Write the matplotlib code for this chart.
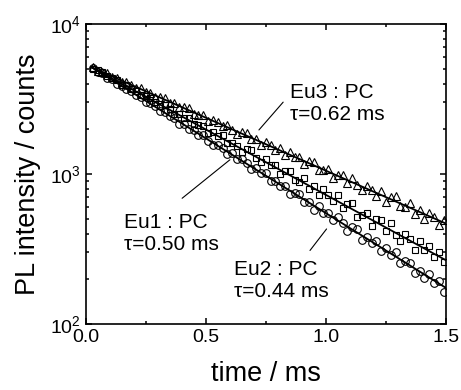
import numpy as np
import matplotlib
matplotlib.use("Agg")
import matplotlib.pyplot as plt

plt.rcParams['font.family'] = ['Liberation Sans', 'DejaVu Sans']
plt.rcParams['mathtext.fontset'] = 'custom'
plt.rcParams['mathtext.rm'] = 'Liberation Sans'

# sampling time of the decay traces (ms)
t_ms = np.round(np.arange(0.03, 1.50, 0.02), 3)

# Eu3 : PC  (triangles)
eu3 = [5150, 4890, 4780, 4700, 4430, 4360, 4110, 4100, 3930, 3750,
       3760, 3530, 3490, 3260, 3250, 3190, 2990, 2960, 2780, 2790,
       2740, 2520, 2490, 2470, 2270, 2280, 2230, 2080, 2120, 1970,
       1860, 1900, 1870, 1710, 1700, 1570, 1630, 1550, 1440, 1480,
       1330, 1410, 1290, 1290, 1160, 1220, 1210, 1070, 1060, 1080,
       940, 990, 990, 870, 940, 840, 780, 830, 780, 710,
       770, 650, 700, 710, 610, 600, 640, 540, 580, 500,
       550, 520, 460, 490]

# Eu1 : PC  (squares)
eu1 = [5050, 4950, 4780, 4480, 4340, 4210, 3950, 3930, 3660, 3590,
       3340, 3330, 3230, 3000, 2850, 2880, 2710, 2500, 2520, 2350,
       2380, 2150, 2130, 2090, 1870, 1910, 1780, 1810, 1610, 1620,
       1540, 1400, 1470, 1440, 1280, 1200, 1260, 1140, 1140, 1000,
       1040, 1050, 910, 890, 940, 800, 830, 720, 790, 720,
       660, 720, 590, 630, 640, 520, 530, 550, 450, 500,
       490, 420, 470, 390, 360, 400, 370, 310, 360, 310,
       330, 280, 300, 260]

# Eu2 : PC  (circles)
eu2 = [5100, 4820, 4700, 4380, 4290, 4010, 3890, 3660, 3580, 3350,
       3250, 3010, 2980, 2820, 2630, 2610, 2420, 2360, 2170, 2160,
       2010, 1980, 1820, 1820, 1670, 1570, 1570, 1490, 1360, 1380,
       1260, 1260, 1180, 1080, 1090, 1010, 1010, 900, 900, 830,
       830, 740, 750, 740, 650, 650, 580, 610, 550, 550,
       490, 520, 470, 420, 440, 430, 365, 380, 345, 360,
       305, 320, 288, 300, 255, 265, 255, 218, 227, 204,
       216, 189, 193, 164]

# single-exponential fits (end points)
fit_t = [0.03, 1.5]
eu3_fit = [5100, 467]
eu1_fit = [5100, 266]
eu2_fit = [5100, 174]

fig = plt.figure(figsize=(4.61, 3.9), dpi=100)
ax = fig.add_axes([0.1855, 0.1692, 0.782, 0.7692])

mk = dict(linestyle='none', markerfacecolor='none', markeredgecolor='black',
          markeredgewidth=0.8)
ax.plot(t_ms, eu3, marker='^', markersize=6, **mk)
ax.plot(t_ms, eu1, marker='s', markersize=5, **mk)
ax.plot(t_ms, eu2, marker='o', markersize=5.5, **mk)

for f in (eu3_fit, eu1_fit, eu2_fit):
    ax.plot(fit_t, f, color='black', lw=1.3, zorder=3)

ax.set_yscale('log')
ax.set_xlim(0, 1.5)
ax.set_ylim(1e2, 1e4)
ax.set_xticks([0.0, 0.5, 1.0, 1.5])
ax.set_xticklabels(['0.0', '0.5', '1.0', '1.5'])
ax.set_xticks([0.25, 0.75, 1.25], minor=True)

ax.tick_params(which='both', direction='in', top=True, right=True,
               labelsize=14, width=1.1)
ax.tick_params(which='major', length=4)
ax.tick_params(which='minor', length=2.5)
for s in ax.spines.values():
    s.set_linewidth(1.2)

ax.set_xlabel('time / ms', fontsize=19.5, labelpad=11)
ax.set_ylabel('PL intensity / counts', fontsize=19.5, labelpad=6)

# labels with pointer lines
ax.text(0.851, 2973, 'Eu3 : PC\nτ=0.62 ms', fontsize=15, va='center',
        ha='left', linespacing=1.2)
ax.annotate('', xy=(0.714, 1905), xytext=(0.830, 3113),
            arrowprops=dict(arrowstyle='-', lw=0.8, color='black'))

ax.text(0.160, 401, 'Eu1 : PC\nτ=0.50 ms', fontsize=15, va='center',
        ha='left', linespacing=1.2)
ax.annotate('', xy=(0.610, 1279), xytext=(0.393, 671),
            arrowprops=dict(arrowstyle='-', lw=0.8, color='black'))

ax.text(0.618, 195, 'Eu2 : PC\nτ=0.44 ms', fontsize=15, va='center',
        ha='left', linespacing=1.2)
ax.annotate('', xy=(1.010, 445), xytext=(0.927, 299),
            arrowprops=dict(arrowstyle='-', lw=0.8, color='black'))

fig.savefig('out.png', dpi=100)
